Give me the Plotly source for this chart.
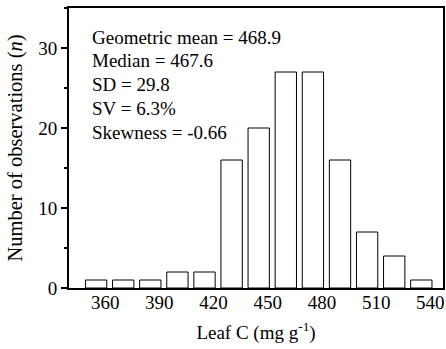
import plotly.graph_objects as go

bin_centers = [355, 370, 385, 400, 415, 430, 445, 460, 475, 490, 505, 520, 535]
counts = [1, 1, 1, 2, 2, 16, 20, 27, 27, 16, 7, 4, 1]
x_ticks = [360, 390, 420, 450, 480, 510, 540]
y_ticks = [0, 10, 20, 30]
stats_lines = ["Geometric mean = 468.9", "Median = 467.6", "SD = 29.8", "SV = 6.3%", "Skewness = -0.66"]
stats_y = [31.3, 28.4, 25.4, 22.4, 19.5]

FONT = "Liberation Serif"

fig = go.Figure()
fig.add_trace(go.Bar(
    x=bin_centers, y=counts,
    marker=dict(color="white", line=dict(color="black", width=1)),
    width=11.8,
))

for txt, yy in zip(stats_lines, stats_y):
    fig.add_annotation(x=351.5, y=yy, xref="x", yref="y", text=txt, showarrow=False,
                       xanchor="left", yanchor="middle",
                       font=dict(family=FONT, size=19, color="black"))

fig.update_layout(
    width=446, height=349,
    margin=dict(l=69, r=1, t=8, b=61),
    paper_bgcolor="white", plot_bgcolor="white",
    showlegend=False,
    font=dict(family=FONT, size=19, color="black"),
)
fig.update_xaxes(
    range=[340, 547], tickvals=x_ticks, ticks="", ticklen=0, ticklabelstandoff=-4,
    showgrid=False, zeroline=False,
    showline=True, linecolor="black", linewidth=2, mirror=True,
    title=dict(text="Leaf C (mg g<sup>-1</sup>)", font=dict(family=FONT, size=19), standoff=14),
)
fig.update_yaxes(
    range=[0, 35], tickvals=y_ticks, ticks="outside", ticklen=6, tickwidth=2, tickcolor="black",
    minor=dict(dtick=5, tick0=0, ticks="outside", ticklen=3, tickwidth=2, tickcolor="black", showgrid=False),
    showgrid=False, zeroline=False,
    showline=True, linecolor="black", linewidth=2, mirror=True,
    title=dict(text="Number of observations (<i>n</i>)", font=dict(family=FONT, size=20.5), standoff=10),
)

fig.write_html("out.html")
